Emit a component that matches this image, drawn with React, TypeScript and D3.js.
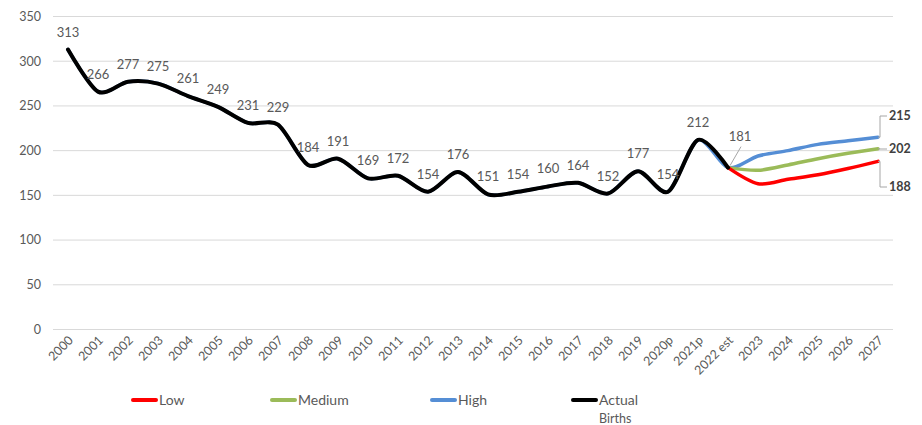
import React from "react";
import * as d3 from "d3";

const categories = ["2000","2001","2002","2003","2004","2005","2006","2007","2008","2009","2010","2011","2012","2013","2014","2015","2016","2017","2018","2019","2020p","2021p","2022 est","2023","2024","2025","2026","2027"];
const actualBirths = [313,266,277,275,261,249,231,229,184,191,169,172,154,176,151,154,160,164,152,177,154,212,181];
const projCategories = ["2022 est","2023","2024","2025","2026","2027"];
const lowValues = [181,163,168,173,180,188];
const mediumValues = [181,178,184,191,197,202];
const highValues = [181,194,200,207,211,215];
const yTicks = [0,50,100,150,200,250,300,350];

const W = 922, H = 425;
const FONT = "Lato, 'Open Sans', sans-serif";
const GRAY = "#595959";

export default function App() {
  const x = d3.scaleBand<string>().domain(categories).range([53, 893]);
  const cx = (c: string) => (x(c) as number) + x.bandwidth() / 2;
  const y = d3.scaleLinear().domain([0, 350]).range([329.5, 16.5]);
  const curve = d3.curveCardinal.tension(0.15);

  type P = { c: string; v: number };
  const line = d3.line<P>().x(d => cx(d.c)).y(d => y(d.v)).curve(curve);
  const actual: P[] = actualBirths.map((v, i) => ({ c: categories[i], v }));
  const hist = actual.slice(0, actual.length - 1);
  const proj = (vals: number[]) => vals.map((v, i) => ({ c: projCategories[i], v }));
  const high = [...hist, ...proj(highValues)];
  const medium = proj(mediumValues);
  const low = proj(lowValues);

  const lastC = categories[categories.length - 1];
  const ex = cx(lastC);
  const ends = [
    { v: highValues[highValues.length - 1], ly: 116 },
    { v: mediumValues[mediumValues.length - 1], ly: 149 },
    { v: lowValues[lowValues.length - 1], ly: 187 },
  ];

  const legend = [
    { name: "Low", color: "#ff0000", x0: 133 },
    { name: "Medium", color: "#9bbb59", x0: 272 },
    { name: "High", color: "#558ed5", x0: 432 },
    { name: "Actual", color: "#000000", x0: 573 },
  ];

  const estIdx = actual.length - 1;
  const est = actual[estIdx];

  return (
    <div style={{ position: "absolute", left: 0, top: 0 }}>
      <svg width={W} height={H} style={{ display: "block", background: "#fff" }} fontFamily={FONT}>
        {yTicks.map(t => (
          <g key={t}>
            <line x1={53} x2={893} y1={y(t)} y2={y(t)} stroke="#d9d9d9" strokeWidth={1} />
            <text x={41} y={y(t)} dy="0.35em" textAnchor="end" fontSize={12.5} fill={GRAY}>{t}</text>
          </g>
        ))}
        {categories.map(c => (
          <text key={c} transform={`translate(${cx(c) + 6},${341}) rotate(-45)`} textAnchor="end" fontSize={12.5} fill={GRAY}>{c}</text>
        ))}
        <path d={line(high) || ""} fill="none" stroke="#558ed5" strokeWidth={3.5} strokeLinejoin="round" strokeLinecap="round" />
        <path d={line(medium) || ""} fill="none" stroke="#9bbb59" strokeWidth={3.5} strokeLinejoin="round" strokeLinecap="round" />
        <path d={line(low) || ""} fill="none" stroke="#ff0000" strokeWidth={3.5} strokeLinejoin="round" strokeLinecap="round" />
        <path d={line(actual) || ""} fill="none" stroke="#000" strokeWidth={4} strokeLinejoin="round" strokeLinecap="round" />
        {actual.map((d, i) => i === estIdx ? null : (
          <text key={d.c} x={cx(d.c)} y={y(d.v) - 13} textAnchor="middle" fontSize={13} fill={GRAY}>{d.v}</text>
        ))}
        <line x1={cx(est.c) + 2} y1={y(est.v) - 2} x2={cx(est.c) + 13} y2={y(est.v) - 21} stroke="#a6a6a6" strokeWidth={1} />
        <text x={cx(est.c) + 12} y={y(est.v) - 27} textAnchor="middle" fontSize={13} fill={GRAY}>{est.v}</text>
        {ends.map(e => (
          <g key={e.v}>
            <polyline points={`${ex},${y(e.v)} ${ex + 2},${y(e.v)} ${ex + 2},${e.ly} ${ex + 9},${e.ly}`} fill="none" stroke="#a6a6a6" strokeWidth={1} />
            <text x={ex + 11} y={e.ly} dy="0.35em" fontSize={12.5} fontWeight="bold" fill="#404040">{e.v}</text>
          </g>
        ))}
        {legend.map(l => (
          <g key={l.name}>
            <line x1={l.x0} x2={l.x0 + 23} y1={400} y2={400} stroke={l.color} strokeWidth={4} strokeLinecap="round" />
            <text x={l.x0 + 26} y={400} dy="0.35em" fontSize={14} fill={GRAY}>{l.name}</text>
          </g>
        ))}
        <text x={599} y={422.5} fontSize={12.5} fill={GRAY}>Births</text>
      </svg>
    </div>
  );
}
